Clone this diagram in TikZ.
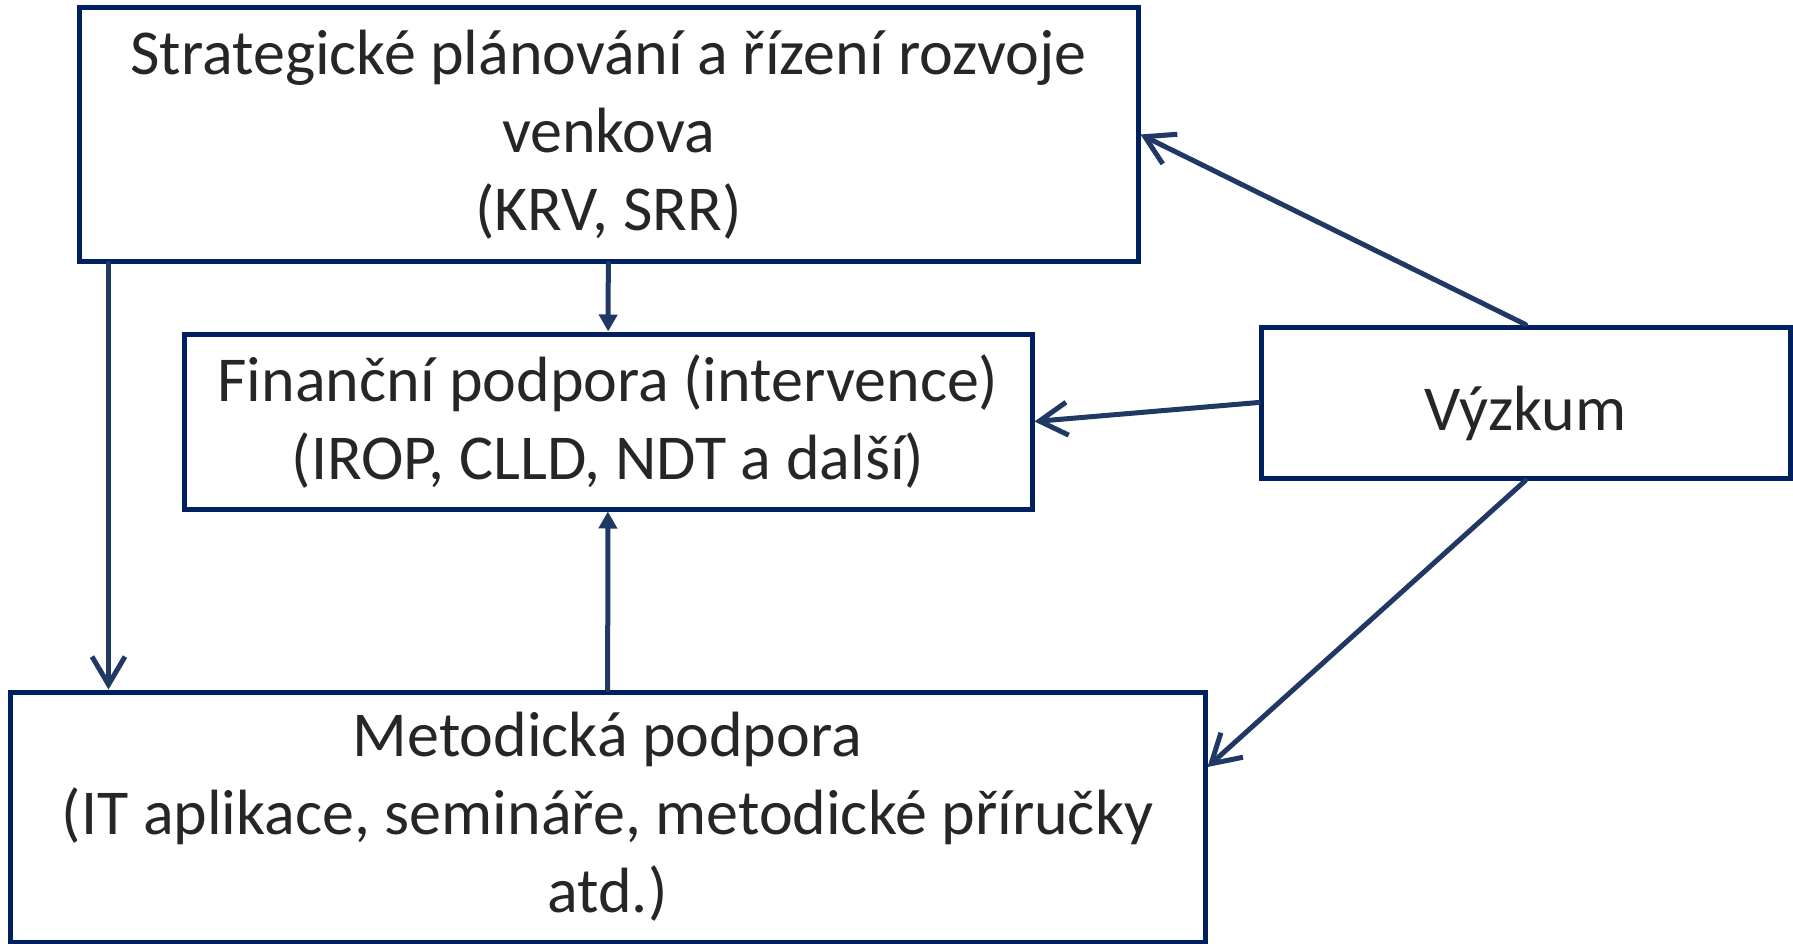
\documentclass[tikz,border=0pt]{standalone}
\usepackage{fontspec}
\setmainfont{Carlito}
\usetikzlibrary{arrows.meta}
\definecolor{ramec}{HTML}{002060}
\definecolor{cara}{HTML}{1F3864}
\definecolor{pismo}{HTML}{262626}
\begin{document}
\begin{tikzpicture}[x=1pt, y=-1pt, >={Straight Barb[length=28pt, width=33pt]}, font=\fontsize{64pt}{78pt}\selectfont]
		\tikzstyle{blok} = [rectangle, draw=ramec, line width=5pt, text=pismo, align=center, inner sep=0pt]
		\tikzstyle{spoj} = [draw=cara, line width=5pt, line cap=round, line join=round]
		\tikzstyle{plna} = [-{Triangle[length=17pt, width=18pt]}]
		\useasboundingbox (0,0) rectangle (1793,944);
		\node[blok, minimum width=1059pt, minimum height=253pt] (strat) at (608.5,134.5) {Strategické plánování a řízení rozvoje\\ venkova\\ (KRV, SRR)};
		\node[blok, minimum width=848pt, minimum height=175pt] (fin) at (608,421.5) {Finanční podpora (intervence)\\ (IROP, CLLD, NDT a další)};
		\node[blok, minimum width=529pt, minimum height=151pt, text height=68pt, text depth=13pt] (vyz) at (1525.5,402.5) {Výzkum};
		\node[blok, minimum width=1195pt, minimum height=250pt] (met) at (607.5,817) {Metodická podpora\\ (IT aplikace, semináře, metodické příručky\\ atd.)};
		\draw[spoj, plna] (strat) -- (fin);
		\draw[spoj, plna] (met) -- (fin);
		\draw[spoj, ->] ([xshift=32pt]strat.south west) -- ([xshift=32pt]strat.south west |- met.north);
		\draw[spoj, ->] (vyz.north) -- (strat.east);
		\draw[spoj, ->] (vyz.west) -- (fin.east);
		\draw[spoj, ->] (vyz.south) -- ([yshift=50pt]met.east);
	\end{tikzpicture}
\end{document}
